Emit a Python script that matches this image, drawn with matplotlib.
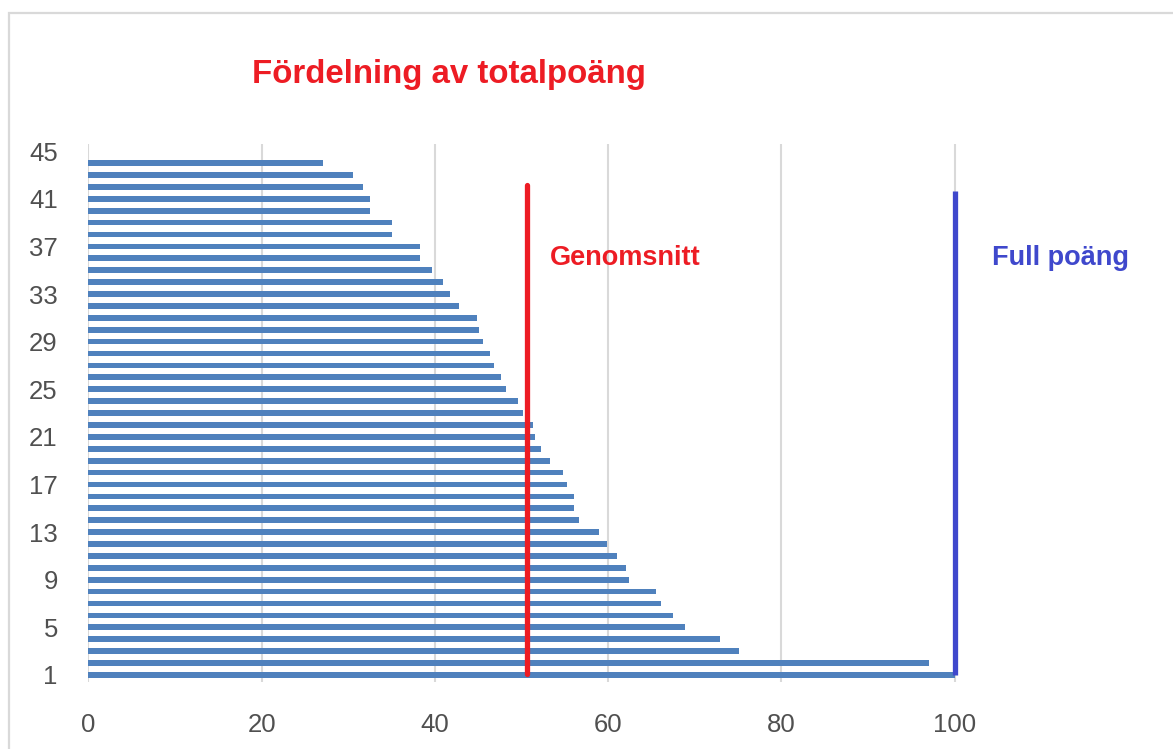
import matplotlib
matplotlib.use("Agg")
import matplotlib.pyplot as plt
from matplotlib.patches import Rectangle

# points per student, student 1 at the bottom, 45 left empty
students = list(range(1, 46))
points = [100, 97, 75.1, 72.9, 68.9, 67.5, 66.1, 65.5, 62.4, 62.0,
          61.0, 59.9, 58.9, 56.6, 56.0, 56.1, 55.3, 54.8, 53.3, 52.2,
          51.5, 51.3, 50.2, 49.6, 48.2, 47.6, 46.8, 46.3, 45.6, 45.1,
          44.8, 42.8, 41.7, 40.9, 39.7, 38.3, 38.3, 35.1, 35.1, 32.5,
          32.5, 31.7, 30.5, 27.1, 0]
y_ticks = list(range(1, 46, 4))
x_ticks = [0, 20, 40, 60, 80, 100]

average = 50.6
full_score = 100
title = "Fördelning av totalpoäng"

plt.rcParams['font.family'] = ['Liberation Sans', 'DejaVu Sans']

fig = plt.figure(figsize=(11.73, 7.49), dpi=100)
ax = fig.add_axes([88.4 / 1173, 67 / 749, 1039.6 / 1173, 538 / 749])

ax.barh(students, points, height=0.48, color='#4f81bd', zorder=2)

ax.set_xlim(0, 120)
ax.set_ylim(0.41, 45.6)
ax.set_xticks(x_ticks)
ax.set_yticks(y_ticks)
ax.tick_params(length=0, labelsize=18.5, labelcolor='#505050')
ax.tick_params(axis='x', pad=22)
ax.tick_params(axis='y', pad=22)
ax.grid(axis='x', color='#d9d9d9', linewidth=1.5, zorder=0)
ax.grid(axis='y', visible=False)
for s in ax.spines.values():
    s.set_visible(False)

# marker lines drawn on top of the bars
ax.plot([average, average], [1.08, 42.15], color='#ed1c24', linewidth=3.8,
        solid_capstyle='round', zorder=4)
ax.plot([full_score, full_score], [1.0, 41.65], color='#3f48cc', linewidth=3.8,
        solid_capstyle='butt', zorder=4)

ax.text(53.3, 36.0, "Genomsnitt", color='#ed1c24', fontsize=19.5,
        fontweight='bold', va='center', ha='left')
ax.text(104.3, 36.0, "Full poäng", color='#3f48cc', fontsize=19.5,
        fontweight='bold', va='center', ha='left')

fig.text(449 / 1173, 1 - 75 / 749, title, color='#ed1c24', fontsize=23.8,
         fontweight='bold', ha='center', va='center')

# light frame around the chart area
fig.patches.append(Rectangle((9 / 1173, -0.1), 1.2, 1.1 - 13.5 / 749,
                             transform=fig.transFigure, fill=False,
                             edgecolor='#d9d9d9', linewidth=1.6))

fig.savefig("out.png", dpi=100)
